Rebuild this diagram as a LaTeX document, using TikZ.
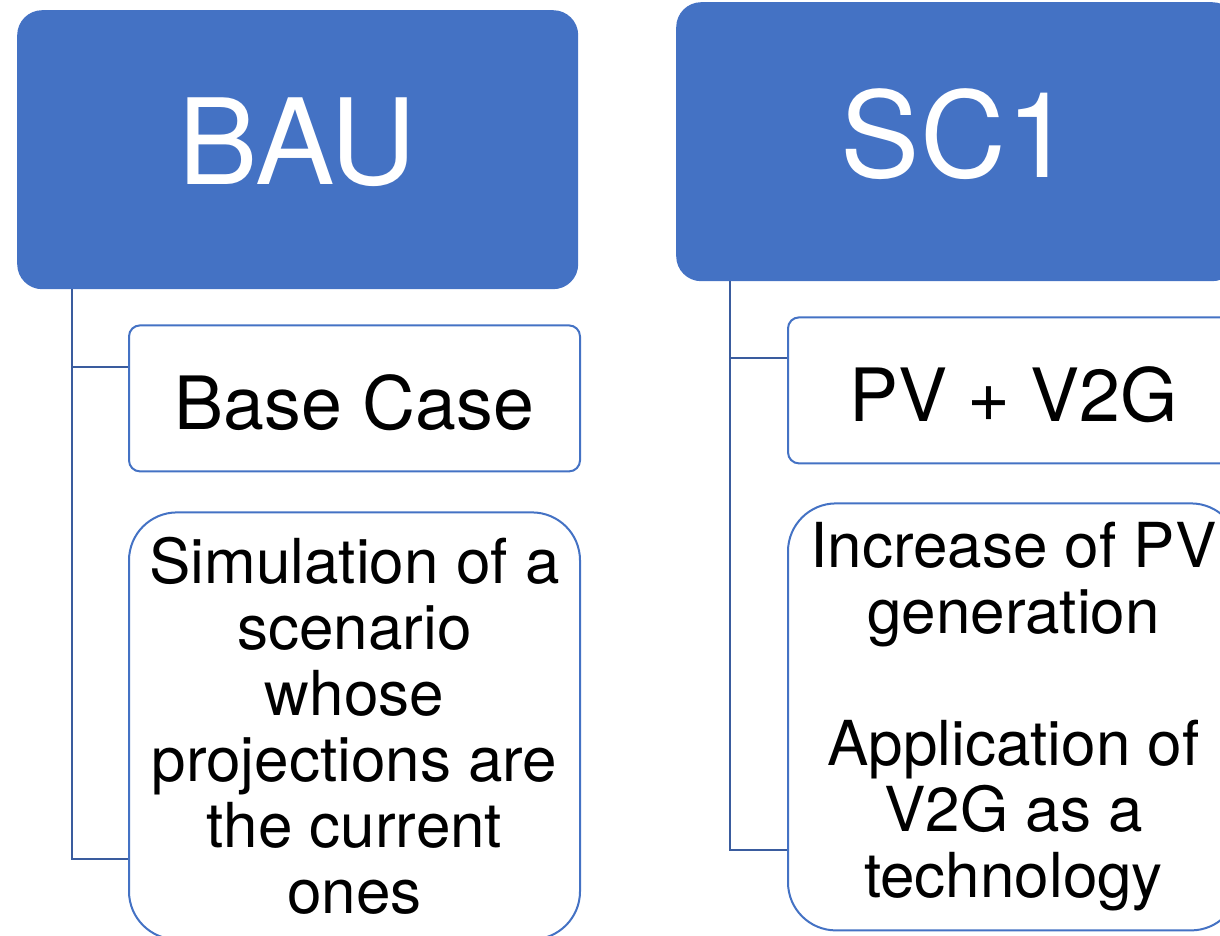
\documentclass[tikz,border=0pt]{standalone}
\usepackage{fontspec}
\setmainfont{TeX Gyre Heros}
\usepackage{tikz}
\usetikzlibrary{positioning}
\definecolor{hdrblue}{HTML}{4472C4}
\definecolor{linkblue}{HTML}{3A5C9E}
\tikzset{%
	header/.style   = {rectangle, rounded corners=25pt, fill=hdrblue, text=white, inner sep=0pt, minimum width=561pt, minimum height=279pt, text depth=17pt, font=\fontsize{119pt}{119pt}\selectfont},
	titlebox/.style = {draw=hdrblue, line width=2pt, rectangle, rounded corners=11pt, fill=white, inner sep=0pt, minimum width=451pt, minimum height=146pt, text height=62pt, text depth=0pt, font=\fontsize{73.5pt}{80pt}\selectfont},
	descbox/.style  = {draw=hdrblue, line width=2pt, rectangle, rounded corners=48pt, fill=white, inner sep=0pt, minimum width=451pt, minimum height=427pt, align=center, font=\fontsize{62pt}{66pt}\selectfont},
	link/.style     = {draw=linkblue, line width=2pt},
}
\begin{document}
\begin{tikzpicture}[x=1pt, y=-1pt]
	\useasboundingbox (0,0) rectangle (1220,936);
	\clip (0,0) rectangle (1220,936);
	% BAU column
	\node[header, anchor=north west] (bau) at (17,10) {BAU};
	\node[titlebox, below right=35pt and 111pt of bau.south west] (base) {Base Case};
	\node[descbox, below=39pt of base] (sim) {Simulation of a\\ scenario\\ whose\\ projections are\\ the current\\ ones};
	\coordinate (bautrunk) at ([xshift=55pt]bau.south west);
	\draw[link] (bautrunk) |- ([yshift=-43pt]base.north west);
	\draw[link] (bautrunk) |- ([yshift=81pt]sim.south west);
	% SC1 column
	\node[header, anchor=north west] (sc) at (676,2) {SC1};
	\node[titlebox, below right=35pt and 111pt of sc.south west] (pv) {PV + V2G};
	\node[descbox, below=38pt of pv] (incr) {Increase of PV\\ generation\\[66pt] Application of\\ V2G as a\\ technology};
	\coordinate (sctrunk) at ([xshift=54pt]sc.south west);
	\draw[link] (sctrunk) |- ([yshift=-42pt]pv.north west);
	\draw[link] (sctrunk) |- ([yshift=81pt]incr.south west);
\end{tikzpicture}
\end{document}
